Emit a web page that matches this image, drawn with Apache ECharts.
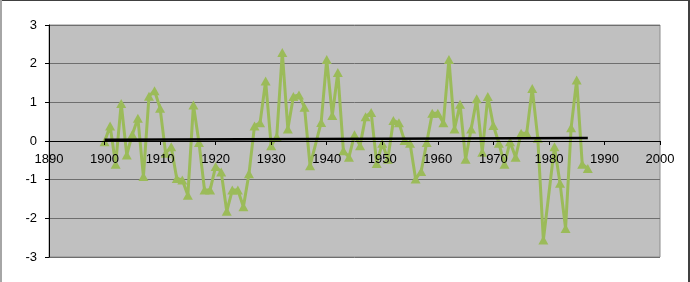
<!DOCTYPE html>
<html>
<head>
<meta charset="utf-8">
<script src="https://cdn.jsdelivr.net/npm/echarts@6/dist/echarts.min.js"></script>
<style>
html,body{margin:0;padding:0;background:#fff;}
#wrap{position:relative;width:690px;height:282px;overflow:hidden;}
#chart{position:absolute;left:0;top:0;width:690px;height:282px;}
.b{position:absolute;pointer-events:none;}
</style>
</head>
<body>
<div id="wrap">
<div id="chart"></div>
<div class="b" style="left:0;top:0;width:690px;height:1px;background:#404040"></div>
<div class="b" style="left:0;top:0;width:2px;height:282px;background:#a6a6a6"></div>
<div class="b" style="left:688px;top:0;width:2px;height:282px;background:#404040"></div>
</div>
<script>
var years = [1900,1901,1902,1903,1904,1905,1906,1907,1908,1909,
  1910,1911,1912,1913,1914,1915,1916,1917,1918,1919,
  1920,1921,1922,1923,1924,1925,1926,1927,1928,1929,
  1930,1931,1932,1933,1934,1935,1936,1937,1939,
  1940,1941,1942,1943,1944,1945,1946,1947,1948,1949,
  1950,1951,1952,1953,1954,1955,1956,1957,1958,1959,
  1960,1961,1962,1963,1964,1965,1966,1967,1968,1969,
  1970,1971,1972,1973,1974,1975,1976,1977,1978,1979,
  1981,1982,1983,1984,1985,1986,1987];
var values = [-0.02,0.39,-0.60,0.97,-0.36,0.17,0.59,-0.92,1.16,1.30,
  0.85,-0.32,-0.15,-0.97,-1.01,-1.40,0.93,-0.04,-1.27,-1.27,
  -0.66,-0.80,-1.82,-1.27,-1.27,-1.70,-0.85,0.39,0.47,1.55,
  -0.12,0.11,2.29,0.31,1.15,1.19,0.87,-0.64,0.48,
  2.11,0.66,1.77,-0.25,-0.42,0.16,-0.12,0.63,0.74,-0.58,
  -0.06,-0.47,0.53,0.47,0.01,-0.06,-0.98,-0.79,-0.04,0.72,
  0.72,0.47,2.11,0.31,0.95,-0.47,0.31,1.09,-0.29,1.15,
  0.40,-0.06,-0.60,-0.02,-0.42,0.20,0.20,1.36,0.07,-2.56,
  -0.15,-1.09,-2.26,0.34,1.58,-0.60,-0.71];
var trendYears = [1900, 1987];
var trendValues = [0.03, 0.08];
var xTicks = [1890,1900,1910,1920,1930,1940,1950,1960,1970,1980,1990,2000];
var yTicks = [-3,-2,-1,0,1,2,3];

var series1 = years.map(function(y,i){return [y, values[i]];});
var trend = trendYears.map(function(y,i){return [y, trendValues[i]];});

var gridTop = 25, gridBottom = 25, chartH = 282;
var plotH = chartH - gridTop - gridBottom;
var yMin = yTicks[0], yMax = yTicks[yTicks.length-1];
// shift x axis from the bottom edge up to the y = 0 line
var zeroOffset = -plotH * (0 - yMin) / (yMax - yMin);

var chart = echarts.init(document.getElementById('chart'), null, {renderer:'canvas'});
var font = 'Liberation Sans, Arial, sans-serif';
chart.setOption({
  animation:false,
  backgroundColor:'#ffffff',
  grid:{left:49,right:30,top:gridTop,bottom:gridBottom,show:true,backgroundColor:'#c0c0c0',borderColor:'#8c8c8c',borderWidth:1},
  xAxis:{
    type:'value',min:xTicks[0],max:xTicks[xTicks.length-1],interval:10,
    position:'bottom',offset:zeroOffset,z:10,
    axisLine:{show:true,onZero:false,lineStyle:{color:'#000',width:1}},
    axisTick:{show:true,inside:false,length:4,lineStyle:{color:'#000'}},
    axisLabel:{color:'#000',fontFamily:font,fontSize:13,margin:12,formatter:function(v){return String(v);}},
    splitLine:{show:false}
  },
  yAxis:{
    type:'value',min:yMin,max:yMax,interval:1,
    axisLine:{show:true,onZero:false,lineStyle:{color:'#000',width:1}},
    axisTick:{show:true,inside:false,length:4,lineStyle:{color:'#000'}},
    axisLabel:{color:'#000',fontFamily:font,fontSize:13,margin:12},
    splitLine:{show:true,lineStyle:{color:'#6e6e6e',width:1}}
  },
  series:[
    {type:'line',data:series1,symbol:'triangle',symbolSize:[10,9],showSymbol:true,
     lineStyle:{color:'#9bbb59',width:3},itemStyle:{color:'#9bbb59'},z:2},
    {type:'line',data:trend,symbol:'none',lineStyle:{color:'#000',width:2.5},z:3}
  ]
});
</script>
</body>
</html>
